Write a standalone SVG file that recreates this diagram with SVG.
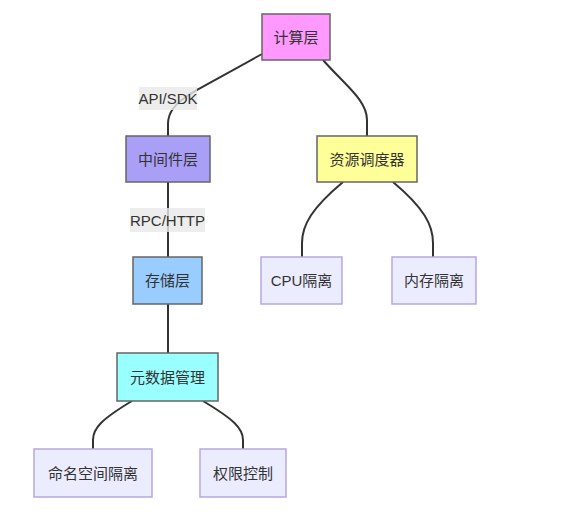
<svg xmlns="http://www.w3.org/2000/svg" width="582" height="518" viewBox="0 0 582 518">
<style>
.node rect{stroke:#666;stroke-width:1.5}
.leaf rect{fill:#ececff;stroke:#b6a6e6;stroke-width:1.5}
text{font-family:"Liberation Sans","Noto Sans CJK SC",sans-serif;font-size:15px;fill:#333;text-anchor:middle;dominant-baseline:central}
.edges path{fill:none;stroke:#333;stroke-width:2}
.lbl rect{fill:#e8e8e8;opacity:0.8}
</style>
<rect width="582" height="518" fill="#fff"/>
<g class="edges" id="connectors">
<path d="M262,54 C230,72 200,88 190,94 C175,104 168,112 168,124 L168,136"/>
<path d="M323,60 C345,85 367,100 367,120 L367,136"/>
<path d="M168,182 L168,257"/>
<path d="M343,182 C312,208 302,225 302,243 L302,257"/>
<path d="M393,182 C424,208 433,225 433,243 L433,257"/>
<path d="M168,304 L168,353"/>
<path d="M132,401 C102,419 93,428 93,440 L93,449"/>
<path d="M203,401 C233,419 243,428 243,440 L243,449"/>
<g class="lbl"><rect x="139" y="87" width="58" height="23"/><text x="168" y="98.500">API/SDK</text></g>
<g class="lbl"><rect x="130" y="208" width="75" height="24"/><text x="167.500" y="220">RPC/HTTP</text></g>
</g>
<g class="node" id="compute"><rect x="262" y="14" width="68" height="46" fill="#ff99ff"/><text x="296" y="37">计算层</text></g>
<g class="node" id="middleware"><rect x="126" y="136" width="84" height="46" fill="#a99ff7"/><text x="168" y="159">中间件层</text></g>
<g class="node" id="scheduler"><rect x="317" y="136" width="100" height="46" fill="#ffff99"/><text x="367" y="159">资源调度器</text></g>
<g class="node" id="storage"><rect x="133" y="257" width="69" height="47" fill="#99ccff"/><text x="167.500" y="280.500">存储层</text></g>
<g class="leaf" id="cpu"><rect x="261" y="257" width="81" height="47"/><text x="301.500" y="280.500">CPU隔离</text></g>
<g class="leaf" id="mem"><rect x="392" y="257" width="84" height="47"/><text x="434" y="280.500">内存隔离</text></g>
<g class="node" id="meta"><rect x="117" y="353" width="101" height="48" fill="#99ffff"/><text x="167.500" y="377">元数据管理</text></g>
<g class="leaf" id="ns"><rect x="34" y="449" width="118" height="48"/><text x="93" y="473">命名空间隔离</text></g>
<g class="leaf" id="perm"><rect x="200" y="449" width="86" height="48"/><text x="243" y="473">权限控制</text></g>
</svg>
